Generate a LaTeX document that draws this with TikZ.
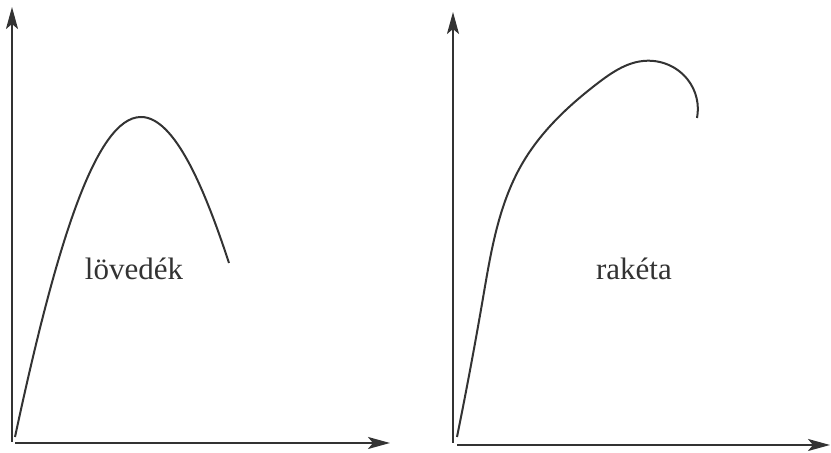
\documentclass[tikz,border=0pt]{standalone}
\usepackage{fontspec}
\setmainfont{Liberation Serif}
\usepackage{tikz}
\usetikzlibrary{arrows.meta}
\usetikzlibrary{hobby}
\definecolor{inkgray}{HTML}{333333}
\tikzset{
  axis_line/.style = {draw=inkgray, line width=1.1pt,
    -{Stealth[length=11pt, width=6pt, inset=2.5pt]}},% tengely
  path_line/.style = {draw=inkgray, line width=1pt},% palya
  graph_label/.style = {inner sep=0pt, anchor=base, text=inkgray,
    font=\fontsize{15.5}{18}\selectfont}% felirat
}

\begin{document}
\begin{tikzpicture}[x=0.5pt, y=-0.5pt]
  \useasboundingbox (0,0) rectangle (831,453);
  % bal oldali grafikon
  \coordinate (y_base_l) at (12,442);
  \coordinate (y_tip_l) at (12,7);
  \coordinate (x_base_l) at (15,443);
  \coordinate (x_tip_l) at (390,443);
  \draw[axis_line] (y_base_l) -- (y_tip_l);
  \draw[axis_line] (x_base_l) -- (x_tip_l);
  \coordinate (start_l) at (15,437);
  \coordinate (peak_l) at (141,117);
  \coordinate (end_l) at (229,263);
  \draw[path_line] (start_l) .. controls (55,250) and (95,117) .. (peak_l)
    .. controls (175,117) and (205,190) .. (end_l);
  \node[graph_label] (label_l) at (134,280) {lövedék};
  % jobb oldali grafikon
  \coordinate (y_base_r) at (453,443);
  \coordinate (y_tip_r) at (453,12);
  \coordinate (x_base_r) at (457,445);
  \coordinate (x_tip_r) at (830,445);
  \draw[axis_line] (y_base_r) -- (y_tip_r);
  \draw[axis_line] (x_base_r) -- (x_tip_r);
  \coordinate (start_r) at (457,437);
  \coordinate (top_r) at (643,61);
  \coordinate (end_r) at (697,118);
  \draw[path_line, use Hobby shortcut] (start_r) .. (483,298) .. (522,164)
    .. (598,83) .. (top_r) .. (688,80) .. (end_r);
  \node[graph_label] (label_r) at (634,280) {rakéta};
\end{tikzpicture}
\end{document}
